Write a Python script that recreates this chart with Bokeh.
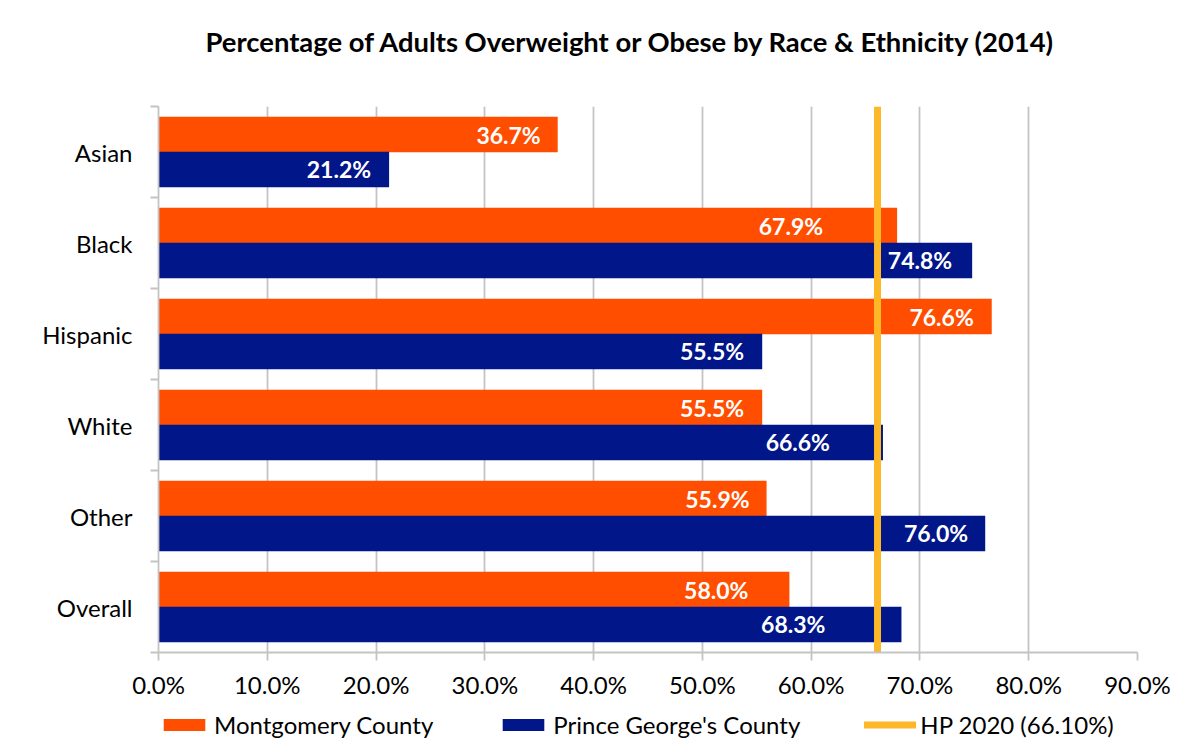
import numpy as np
from bokeh.plotting import figure
from bokeh.layouts import column
from bokeh.models import (ColumnDataSource, Range1d, LinearAxis, FixedTicker,
                          PrintfTickFormatter, Legend, LegendItem, Label)
from bokeh.core.properties import value
from bokeh.embed import file_html
from bokeh.resources import INLINE

# ---------------- data ----------------
title_text = "Percentage of Adults Overweight or Obese by Race & Ethnicity (2014)"
categories = ["Asian", "Black", "Hispanic", "White", "Other", "Overall"]
montgomery = [36.7, 67.9, 76.6, 55.5, 55.9, 58.0]
prince_georges = [21.2, 74.8, 55.5, 66.6, 76.0, 68.3]
hp2020 = 66.1
series_names = ["Montgomery County", "Prince George's County", "HP 2020 (66.10%)"]
x_ticks = [0, 10, 20, 30, 40, 50, 60, 70, 80, 90]

# ---------------- style ----------------
FONT = "Lato"
ORANGE = "#FF4E00"
NAVY = "#001689"
GOLD = "#FDB827"
GRID = "#C4C4C4"
OFF = 0.192   # half-distance between paired bars (category units)
BH = 0.392    # bar thickness (category units)
# data-label shifts (px, from bar end), as placed in the original chart
m_label_shift = [-17, -74, -18, -18, -17, -41]
pg_label_shift = [-18, -20, -18, -53, -17, -76]

LEFT, FW, RIGHT = 158, 979, 62
TITLE_H = 70
LEG_H = 50

n = len(categories)
centers = n - np.arange(n) - 0.5      # first category on top

src = ColumnDataSource(dict(
    cat=categories,
    y_m=centers + OFF,
    y_pg=centers - OFF,
    m=montgomery,
    pg=prince_georges,
    m_lab=[f"{v:.1f}%" for v in montgomery],
    pg_lab=[f"{v:.1f}%" for v in prince_georges],
    m_dx=m_label_shift,
    pg_dx=pg_label_shift,
))


def strip_fig(h):
    f = figure(frame_width=FW, frame_height=h,
               min_border_left=LEFT, min_border_right=RIGHT,
               min_border_top=0, min_border_bottom=0,
               x_range=Range1d(0, FW), y_range=Range1d(0, h),
               x_axis_location=None, y_axis_location=None,
               output_backend="svg", toolbar_location=None,
               background_fill_color="white", border_fill_color="white")
    f.outline_line_color = None
    f.xgrid.visible = False
    f.ygrid.visible = False
    return f


# ---------------- title strip ----------------
tf = strip_fig(TITLE_H)
tf.add_layout(Label(x=630.5 - LEFT, y=TITLE_H - 41, text=title_text,
                    text_align="center", text_baseline="middle", text_font=FONT,
                    text_font_style="bold", text_font_size="27.4px", text_color="#000000"))

# ---------------- main chart ----------------
p = figure(
    y_range=Range1d(0, n),
    x_range=Range1d(x_ticks[0], x_ticks[-1]),
    frame_width=FW, frame_height=546,
    min_border_left=LEFT, min_border_right=RIGHT, min_border_top=106 - TITLE_H, min_border_bottom=50,
    output_backend="svg", toolbar_location=None,
    y_axis_location=None, x_axis_location="below",
    background_fill_color="white", border_fill_color="white",
)
p.outline_line_color = None

xa = p.xaxis[0]
xa.ticker = FixedTicker(ticks=x_ticks, minor_ticks=[])
xa.formatter = PrintfTickFormatter(format="%.1f%%")
xa.axis_line_color = GRID
xa.axis_line_width = 1.8
xa.major_tick_line_color = GRID
xa.major_tick_line_width = 1.8
xa.major_tick_in = 0
xa.major_tick_out = 8
xa.minor_tick_line_color = None
xa.major_label_text_font = FONT
xa.major_label_text_font_size = "24px"
xa.major_label_text_color = "#000000"
xa.major_label_standoff = 9

p.xgrid.ticker = FixedTicker(ticks=x_ticks)
p.xgrid.grid_line_color = GRID
p.xgrid.grid_line_width = 1.8
p.ygrid.grid_line_color = None

# y axes: boundary ticks (closest to frame), then category labels
tick_axis = LinearAxis(
    ticker=FixedTicker(ticks=list(range(n + 1)), minor_ticks=[]),
    axis_line_color=GRID, axis_line_width=1.8,
    major_tick_line_color=GRID, major_tick_line_width=1.8,
    major_tick_in=0, major_tick_out=8,
    minor_tick_line_color=None,
    major_label_text_font_size="1px", major_label_text_color=None, major_label_standoff=0,
)
p.add_layout(tick_axis, "left")
cat_axis = LinearAxis(
    ticker=FixedTicker(ticks=list(centers), minor_ticks=[]),
    major_label_overrides={float(c): name for c, name in zip(centers, categories)},
    axis_line_color=None, major_tick_line_color=None, minor_tick_line_color=None,
    major_tick_in=0, major_tick_out=0,
    major_label_text_font=FONT, major_label_text_font_size="24px",
    major_label_text_color="#000000", major_label_standoff=18,
)
p.add_layout(cat_axis, "left")

p.hbar(y="y_m", left=0, right="m", height=BH, source=src, fill_color=ORANGE, line_color=None)
p.hbar(y="y_pg", left=0, right="pg", height=BH, source=src, fill_color=NAVY, line_color=None)
p.segment(x0=[hp2020], x1=[hp2020], y0=[0], y1=[n], line_color=GOLD, line_width=7)

for col, ycol, lab, dx in (("m", "y_m", "m_lab", "m_dx"), ("pg", "y_pg", "pg_lab", "pg_dx")):
    p.text(x=col, y=ycol, text=lab, source=src,
           x_offset=dx, text_align="right", text_baseline="middle",
           text_color="white", text_font=value(FONT), text_font_style="bold",
           text_font_size="23px")

# ---------------- legend strip ----------------
lf = strip_fig(LEG_H)
nan = [np.nan]
l_m = lf.hbar(y=nan, right=nan, left=0, height=1, fill_color=ORANGE, line_color=None)
l_pg = lf.hbar(y=nan, right=nan, left=0, height=1, fill_color=NAVY, line_color=None)
l_hp = lf.segment(x0=nan, x1=nan, y0=nan, y1=nan, line_color=GOLD, line_width=7, line_cap="round")
legend = Legend(
    items=[LegendItem(label=series_names[0], renderers=[l_m]),
           LegendItem(label=series_names[1], renderers=[l_pg]),
           LegendItem(label=series_names[2], renderers=[l_hp])],
    orientation="horizontal", location=(0, 13),
    glyph_width=52, glyph_height=15, label_standoff=4, spacing=64,
    padding=0, margin=0, border_line_color=None, background_fill_alpha=0,
    label_text_font=FONT, label_text_font_size="24px", label_text_color="#000000",
)
lf.add_layout(legend, "center")

layout = column(tf, p, lf, spacing=0)
open("out.html", "w").write(file_html(layout, INLINE))
